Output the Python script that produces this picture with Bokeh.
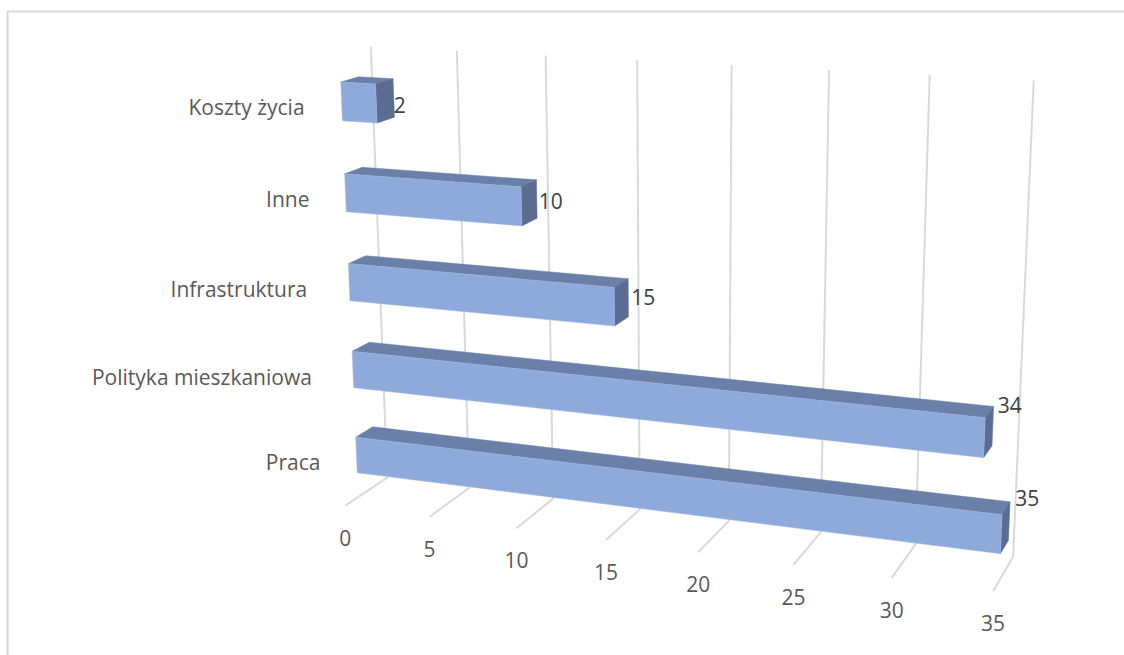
import numpy as np
from bokeh.plotting import figure
from bokeh.models import Range1d
from bokeh.core.properties import value
from bokeh.embed import file_html
from bokeh.resources import INLINE

# ---- data (bottom category first) ----
categories = ["Praca", "Polityka mieszkaniowa", "Infrastruktura", "Inne", "Koszty życia"]
values = [35, 34, 15, 10, 2]
tick_values = [0, 5, 10, 15, 20, 25, 30, 35]
tick_labels = ["0", "5", "10", "15", "20", "25", "30", "35"]

# ---- style ----
FONT = "Open Sans"
GRID = "#d9d9d9"
FRONT, TOP, SIDE = "#8eaadb", "#6b80a8", "#5b6c90"
GAP, D0, D1, VMAX = 0.29, 0.30, 0.70, 35
cat_label_dx = [-36, -41, -42, -36, -37]
cat_label_dy = [7, 7, 7, 6, 5]
val_label_dx = [6, 5, 3, 2, 0]
val_label_dy = [-23, -21, -1, 2, 7]

# ---- camera: (value, depth, level) -> page pixel, fitted to the frame of the reference ----
calib = [
    (0, 0, 0, 344, 505.3), (35, 0, 0, 992.7, 591), (5, 0, 0, 428.7, 516.7), (10, 0, 0, 515.7, 528), (30, 0, 0, 891, 577.7),
    (0, 1, 0, 386.7, 476.7), (35, 1, 0, 1012.7, 556.7), (5, 1, 0, 468.7, 486.7), (10, 1, 0, 552.7, 497.7), (30, 1, 0, 915, 543.3),
    (0, 1, 5, 370, 45), (35, 1, 5, 1032.7, 79.3), (30, 1, 5, 929, 74),
    (0, D0, GAP, 356.6, 471), (0, D0, 1 - GAP, 355.3, 437.3), (0, D1, 1 - GAP, 372.3, 427.3),
    (35, D0, GAP, 1000, 552), (35, D0, 1 - GAP, 1000.7, 515), (35, D1, 1 - GAP, 1009.3, 502.7), (35, D1, GAP, 1008, 540.7),
    (0, D0, 1 + GAP, 353, 386), (0, D0, 2 - GAP, 352, 351.7), (0, D1, 2 - GAP, 369.3, 342.7),
    (34, D0, 1 + GAP, 983.3, 456), (34, D0, 2 - GAP, 984.3, 417.7), (34, D1, 2 - GAP, 993, 407.3), (34, D1, 1 + GAP, 992, 444.3),
    (0, D0, 2 + GAP, 349.3, 299), (0, D0, 3 - GAP, 348.3, 264), (0, D1, 3 - GAP, 365, 256),
    (15, D0, 2 + GAP, 614.7, 324.3), (15, D0, 3 - GAP, 614.3, 287.3), (15, D1, 3 - GAP, 627.7, 279.3), (15, D1, 2 + GAP, 628.3, 315.7),
    (0, D0, 3 + GAP, 345.3, 210.3), (0, D0, 4 - GAP, 344.3, 174), (0, D1, 4 - GAP, 360.7, 167.3),
    (10, D0, 3 + GAP, 521.7, 224), (10, D0, 4 - GAP, 521.3, 186.7), (10, D1, 4 - GAP, 536, 180.7), (10, D1, 3 + GAP, 537, 216.7),
    (0, D0, 4 + GAP, 341.7, 119.3), (0, D0, 5 - GAP, 340.3, 82.7), (0, D1, 5 - GAP, 357.3, 77.3),
    (2, D0, 4 + GAP, 376.7, 121.3), (2, D0, 5 - GAP, 375.7, 84), (2, D1, 5 - GAP, 392.7, 79.3), (2, D1, 4 + GAP, 394, 116.7),
]
rows = []
for v, d, h, x, y in calib:
    X = [v / VMAX, d, h / 5, 1]
    rows.append(X + [0, 0, 0, 0] + [-x / 1000 * c for c in X])
    rows.append([0, 0, 0, 0] + X + [-y / 1000 * c for c in X])
_, _, vt = np.linalg.svd(np.array(rows))
P = vt[-1].reshape(3, 4)


def proj(v, d, h):
    X = np.array([v / VMAX, d, h / 5, 1.0])
    a = P @ X
    return float(a[0] / a[2] * 1000), float(a[1] / a[2] * 1000)


# ---- figure in page pixels ----
W, H = 1124, 655
p = figure(width=W, height=H, x_range=Range1d(0, W), y_range=Range1d(H, 0),
           output_backend="svg", toolbar_location=None, min_border=0,
           margin=(0, 0, 0, 0), outline_line_color=None, background_fill_color="white")
p.axis.visible = False
p.grid.visible = False

# chart frame
p.line([7, 7, W], [H, 11, 11], line_color=GRID, line_width=2)

# floor and wall grid
for t in tick_values:
    a, b, c = proj(t, 0, 0), proj(t, 1, 0), proj(t, 1, 5)
    p.line([a[0], b[0], c[0]], [a[1], b[1], c[1]], line_color=GRID, line_width=2)

# bars
fx, fy, tx, ty, sx, sy = [], [], [], [], [], []
for i, v in enumerate(values):
    h0, h1 = i + GAP, i + 1 - GAP
    quad = [proj(0, D0, h0), proj(v, D0, h0), proj(v, D0, h1), proj(0, D0, h1)]
    fx.append([q[0] for q in quad]); fy.append([q[1] for q in quad])
    quad = [proj(0, D0, h1), proj(v, D0, h1), proj(v, D1, h1), proj(0, D1, h1)]
    tx.append([q[0] for q in quad]); ty.append([q[1] for q in quad])
    quad = [proj(v, D0, h0), proj(v, D1, h0), proj(v, D1, h1), proj(v, D0, h1)]
    sx.append([q[0] for q in quad]); sy.append([q[1] for q in quad])
p.patches(tx, ty, fill_color=TOP, line_color=TOP, line_width=0.5)
p.patches(sx, sy, fill_color=SIDE, line_color=SIDE, line_width=0.5)
p.patches(fx, fy, fill_color=FRONT, line_color="#a3bae2", line_width=0.5)

# category labels
cp = [proj(0, D0, i + 0.5) for i in range(len(categories))]
p.text(x=[c[0] + dx for c, dx in zip(cp, cat_label_dx)],
       y=[c[1] + dy for c, dy in zip(cp, cat_label_dy)],
       text=categories, text_font=value(FONT), text_font_size="21px", text_color="#595959",
       text_align="right", text_baseline="middle")

# value labels
vp = [proj(v, D1, i + 0.5) for i, v in enumerate(values)]
p.text(x=[c[0] + dx for c, dx in zip(vp, val_label_dx)],
       y=[c[1] + dy for c, dy in zip(vp, val_label_dy)],
       text=[str(v) for v in values], text_font=value(FONT), text_font_size="21px", text_color="#404040",
       text_align="left", text_baseline="middle")

# tick labels
tp = [proj(t, 0, 0) for t in tick_values]
p.text(x=[c[0] for c in tp], y=[c[1] + 32 for c in tp],
       text=tick_labels, text_font=value(FONT), text_font_size="21px", text_color="#595959",
       text_align="center", text_baseline="middle")

open("out.html", "w").write(file_html(p, INLINE))
